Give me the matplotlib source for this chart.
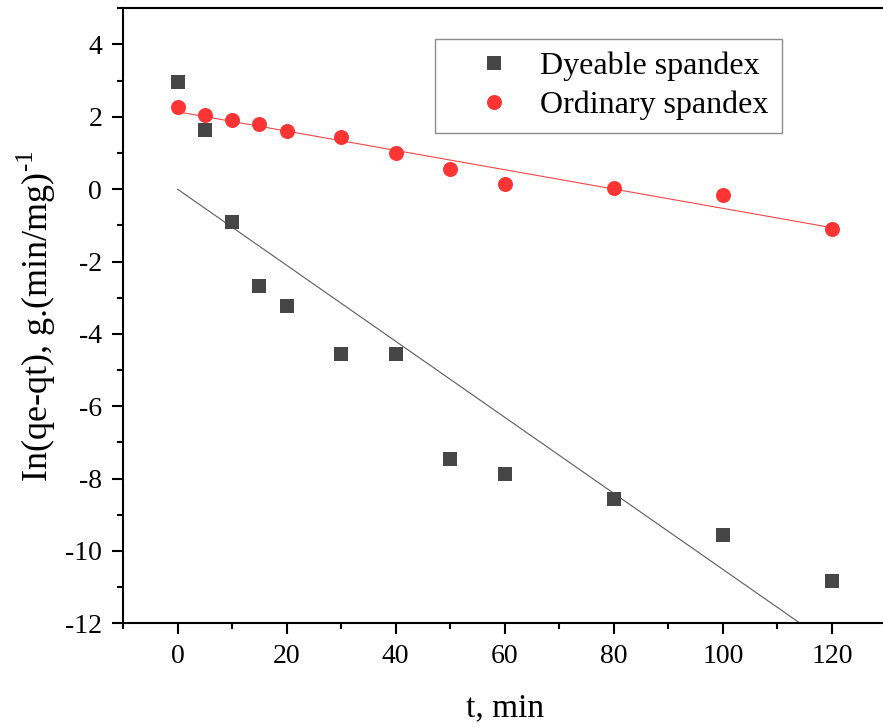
import matplotlib
matplotlib.use("Agg")
import matplotlib.pyplot as plt
import numpy as np
from matplotlib.ticker import MultipleLocator

plt.rcParams['font.family'] = ['Liberation Serif', 'DejaVu Serif']
plt.rcParams['mathtext.fontset'] = 'custom'
plt.rcParams['mathtext.rm'] = 'Liberation Serif'
plt.rcParams['axes.unicode_minus'] = False

# sampling times, min
t = [0, 5, 10, 15, 20, 30, 40, 50, 60, 80, 100, 120]

# ln(qe-qt) for both fibres
dyeable = [2.95, 1.63, -0.90, -2.67, -3.22, -4.56, -4.56, -7.46, -7.87, -8.57, -9.56, -10.82]
ordinary = [2.26, 2.04, 1.91, 1.81, 1.61, 1.44, 0.99, 0.57, 0.13, 0.04, -0.17, -1.09]

# linear fits (intercept, slope)
dyeable_fit = (0.0, -0.1051)
ordinary_fit = (2.14, -0.0267)

fig = plt.figure(figsize=(8.83, 7.28), dpi=100)
ax = fig.add_axes([123 / 883, 1 - 623.3 / 728, (886.5 - 123) / 883, (623.3 - 8.3) / 728])

tt = np.array([t[0], t[-1]])
ax.plot(tt, dyeable_fit[0] + dyeable_fit[1] * tt, color='#5a5a5a', lw=0.8)
ax.plot(tt, ordinary_fit[0] + ordinary_fit[1] * tt, color='#f04848', lw=0.8)

ax.plot(t, dyeable, 's', color='#464646', ms=9.4, mew=0, label='Dyeable spandex')
ax.plot(t, ordinary, 'o', color='#ff3535', ms=10.8, mew=0, label='Ordinary spandex')

ax.set_xlim(-10, 130)
ax.set_ylim(-12, 5)
ax.xaxis.set_major_locator(MultipleLocator(20))
ax.xaxis.set_minor_locator(MultipleLocator(10))
ax.yaxis.set_major_locator(MultipleLocator(2))
ax.yaxis.set_minor_locator(MultipleLocator(1))

for s in ax.spines.values():
    s.set_linewidth(1.5)
ax.tick_params(which='both', direction='out', width=1.5, top=False, right=False)
ax.tick_params(which='major', length=8, labelsize=20)
ax.tick_params(which='minor', length=4.5)
ax.tick_params(axis='x', pad=7)
ax.tick_params(axis='y', pad=7)

ax.set_xlabel('t, min', fontsize=24, labelpad=17)
ax.set_ylabel(r'In(qe-qt), g.(min/mg)$^{\text{-1}}$', fontsize=26, labelpad=5)

leg = ax.legend(loc='upper left', bbox_to_anchor=(435 / 883, 1 - 39 / 728),
                bbox_transform=fig.transFigure, borderaxespad=0, fontsize=23,
                frameon=True, fancybox=False, handlelength=2.9, handletextpad=0.0,
                borderpad=0.4, labelspacing=0.3)
leg.get_frame().set_edgecolor('#707070')
leg.get_frame().set_linewidth(1.0)

fig.savefig('out.png', dpi=100)
